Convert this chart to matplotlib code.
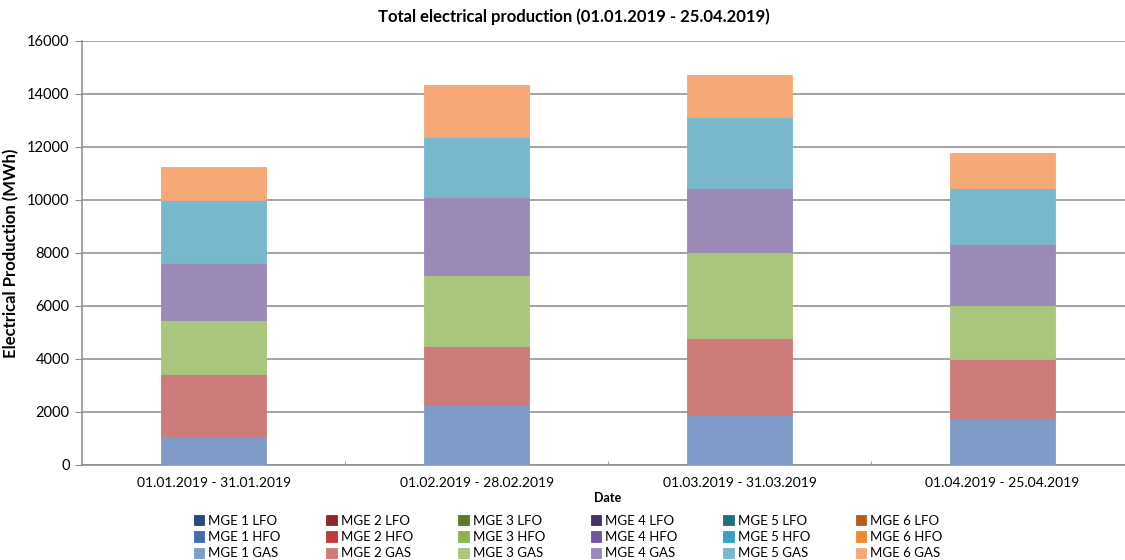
import numpy as np
import matplotlib.pyplot as plt

plt.rcParams['font.family'] = ['Lato', 'DejaVu Sans']

# monthly periods on the x axis
periods = ["01.01.2019 - 31.01.2019", "01.02.2019 - 28.02.2019",
           "01.03.2019 - 31.03.2019", "01.04.2019 - 25.04.2019"]

units = ["MGE 1", "MGE 2", "MGE 3", "MGE 4", "MGE 5", "MGE 6"]
fuels = ["LFO", "HFO", "GAS"]

# production per unit and period (MWh)
lfo = {u: [0, 0, 0, 0] for u in units}
hfo = {u: [0, 0, 0, 0] for u in units}
gas = {
    "MGE 1": [1100, 2260, 1890, 1780],
    "MGE 2": [2340, 2230, 2900, 2220],
    "MGE 3": [2040, 2680, 3250, 2040],
    "MGE 4": [2140, 2940, 2410, 2300],
    "MGE 5": [2380, 2260, 2680, 2110],
    "MGE 6": [1250, 1970, 1580, 1320],
}

colors = {
    "LFO": ["#254a7c", "#8c2a2a", "#5d7a2a", "#47336c", "#1f6f80", "#b45e1c"],
    "HFO": ["#3f6fb0", "#c03b38", "#8cb44a", "#7153a0", "#35a3c0", "#f08a30"],
    "GAS": ["#7f9cc9", "#cd7a7a", "#aac57c", "#9b89b6", "#78b8cd", "#f7a877"],
}
data = {"LFO": lfo, "HFO": hfo, "GAS": gas}

fig = plt.figure(figsize=(11.25, 5.6), dpi=100)
ax = fig.add_axes([0.073, 0.17, 0.935, 0.757])

x = np.arange(len(periods))
bottom = np.zeros(len(periods))
handles = {}
for fuel in fuels:
    for i, u in enumerate(units):
        vals = np.array(data[fuel][u], dtype=float)
        c = colors[fuel][i]
        b = ax.bar(x, vals, 0.4, bottom=bottom, color=c, edgecolor=c,
                   linewidth=0.6, label=f"{u} {fuel}", zorder=3)
        handles[(u, fuel)] = b
        bottom += vals

ax.set_xlim(-0.5, 3.5)
ax.set_ylim(0, 16000)
ax.set_yticks(np.arange(0, 16001, 2000))
ax.yaxis.grid(True, color="#8c8c8c", linewidth=1.1, zorder=0)
ax.set_xticks(x)
ax.set_xticklabels(periods, fontsize=10)
ax.set_xticks(np.arange(0.5, 3.5, 1), minor=True)
ax.tick_params(axis="x", which="major", length=0, pad=9)
ax.tick_params(axis="x", which="minor", length=3, direction="in", color="#8c8c8c")
ax.tick_params(axis="y", length=5, color="#8c8c8c", labelsize=10.5, pad=4)

for s in ["top", "right"]:
    ax.spines[s].set_visible(False)
for s in ["left", "bottom"]:
    ax.spines[s].set_color("#8c8c8c")
    ax.spines[s].set_linewidth(1.1)

ax.set_ylabel("Electrical Production (MWh)", fontsize=12, fontweight="bold", labelpad=6)
ax.set_xlabel("Date", fontsize=9, fontweight="bold", labelpad=2)
fig.suptitle("Total electrical production (01.01.2019 - 25.04.2019)",
             fontsize=12, fontweight="bold", x=0.51, y=0.985)

# legend: one column per unit, rows LFO / HFO / GAS
order = [(u, f) for u in units for f in fuels]
leg = fig.legend([handles[k] for k in order], [f"{u} {f}" for u, f in order],
                 ncol=6, loc="lower center", bbox_to_anchor=(0.505, -0.02),
                 frameon=False, fontsize=9.5, handlelength=0.8, handleheight=0.8,
                 handletextpad=0.3, columnspacing=3.45, labelspacing=0.32)

fig.savefig("out.png", dpi=100)
